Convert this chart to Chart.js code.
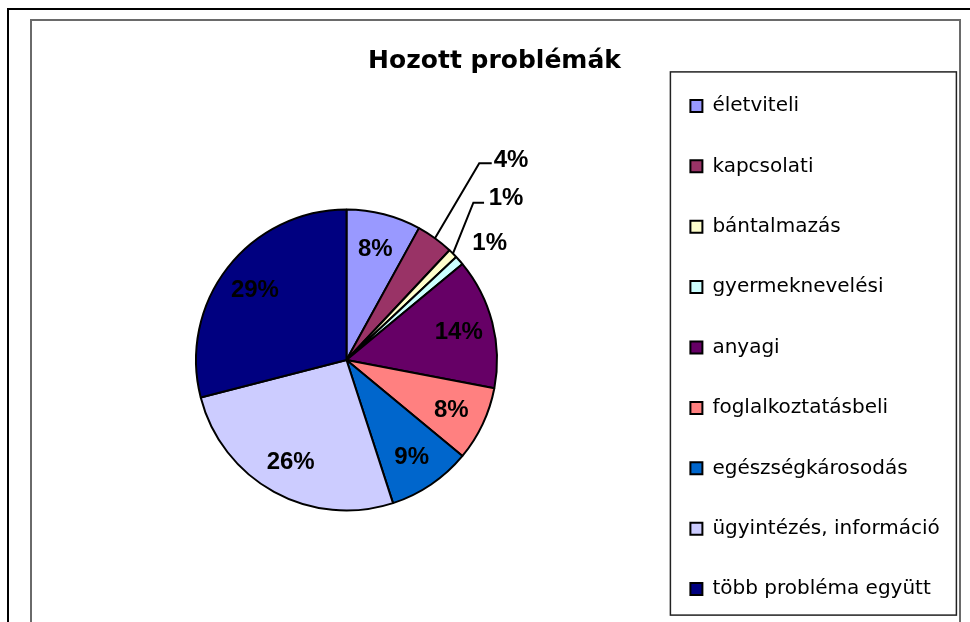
<!DOCTYPE html>
<html><head><meta charset="utf-8">
<script src="https://cdn.jsdelivr.net/npm/chart.js@4.4.0/dist/chart.umd.min.js"></script>
<style>
html,body{margin:0;padding:0;background:#fff;overflow:hidden;width:970px;height:622px;}
#outer{position:absolute;left:7px;top:8px;width:1100px;height:800px;border-left:2px solid #000;border-top:2px solid #000;box-sizing:border-box;}
#inner{position:absolute;left:30px;top:19px;width:931px;height:800px;border:2px solid #6a6a6a;border-bottom:none;box-sizing:border-box;}
#wrap{position:absolute;left:0;top:0;width:970px;height:660px;}
</style></head>
<body>
<div id="outer"></div><div id="inner"></div>
<div id="wrap"><canvas id="c" width="970" height="660" style="width:970px;height:660px"></canvas></div>
<script>
const chartTitle = 'Hozott problémák';
const categories = ['életviteli','kapcsolati','bántalmazás','gyermeknevelési','anyagi','foglalkoztatásbeli','egészségkárosodás','ügyintézés, információ','több probléma együtt'];
const percentValues = [8, 4, 1, 1, 14, 8, 9, 26, 29];
const sliceColors = ['#9999FF','#993366','#FFFFCC','#CCFFFF','#660066','#FF8080','#0066CC','#CCCCFF','#000080'];

Chart.defaults.font.family = '"DejaVu Sans", sans-serif';
Chart.defaults.color = '#000';

const pieLabels = {
  id: 'pieLabels',
  afterDatasetsDraw(chart, args, opts) {
    const ctx = chart.ctx;
    const meta = chart.getDatasetMeta(0);
    const data = chart.data.datasets[0].data;
    const total = data.reduce((a, b) => a + b, 0);
    ctx.save();
    ctx.font = 'bold 24px "Liberation Sans", Arial, sans-serif';
    ctx.fillStyle = '#000';
    ctx.textBaseline = 'middle';
    ctx.textAlign = 'center';
    meta.data.forEach((arc, i) => {
      const p = arc.getProps(['x','y','startAngle','endAngle','outerRadius'], true);
      const mid = (p.startAngle + p.endAngle) / 2;
      const R = p.outerRadius;
      const text = Math.round(data[i] / total * 100) + '%';
      const o = opts.outside[i];
      if (o) {
        if (o.elbow) {
          ctx.beginPath();
          ctx.moveTo(p.x + Math.cos(mid) * R, p.y + Math.sin(mid) * R);
          ctx.lineTo(p.x + o.elbow[0] * R, p.y + o.elbow[1] * R);
          ctx.lineTo(p.x + o.end[0] * R, p.y + o.end[1] * R);
          ctx.lineWidth = 2;
          ctx.strokeStyle = '#000';
          ctx.stroke();
        }
        ctx.fillText(text, p.x + o.text[0] * R, p.y + o.text[1] * R + 1.2);
      } else {
        const r = R * opts.inside;
        ctx.fillText(text, p.x + Math.cos(mid) * r, p.y + Math.sin(mid) * r + 1.2);
      }
    });
    ctx.restore();
  }
};

const legendFrame = {
  id: 'legendFrame',
  afterDraw(chart) {
    const hb = chart.legend && chart.legend.legendHitBoxes;
    if (!hb || !hb.length) return;
    const ctx = chart.ctx;
    const first = hb[0], last = hb[hb.length - 1];
    const left = first.left - 20;
    const top = first.top - 24;
    const right = left + 286;
    const bottom = last.top + last.height + 16;
    ctx.save();
    ctx.strokeStyle = '#222';
    ctx.lineWidth = 1.5;
    ctx.strokeRect(left, top, right - left, bottom - top);
    ctx.restore();
  }
};

new Chart(document.getElementById('c'), {
  type: 'pie',
  data: {
    labels: categories,
    datasets: [{
      data: percentValues,
      backgroundColor: sliceColors,
      borderColor: '#000',
      borderWidth: 2,
      radius: 150.5
    }]
  },
  plugins: [pieLabels, legendFrame],
  options: {
    responsive: false,
    animation: false,
    layout: { padding: { left: 43, right: 24, top: 48.7, bottom: 13.7 } },
    plugins: {
      title: {
        display: true,
        text: chartTitle,
        color: '#000',
        font: { size: 25, weight: 'bold', lineHeight: 1 },
        padding: { top: 0, bottom: 0 }
      },
      legend: {
        display: true,
        position: 'right',
        fullSize: true,
        align: 'center',
        maxWidth: 296,
        labels: {
          color: '#000',
          font: { size: 20 },
          boxWidth: 12,
          boxHeight: 12,
          padding: 40.4
        }
      },
      tooltip: { enabled: false },
      pieLabels: {
        inside: 0.77,
        outside: {
          1: { text: [1.093, -1.336], elbow: [0.882, -1.307], end: [0.965, -1.307] },
          2: { text: [1.06, -1.083], elbow: [0.843, -1.045], end: [0.914, -1.045] },
          3: { text: [0.951, -0.784] }
        }
      }
    }
  }
});
</script>
</body></html>
